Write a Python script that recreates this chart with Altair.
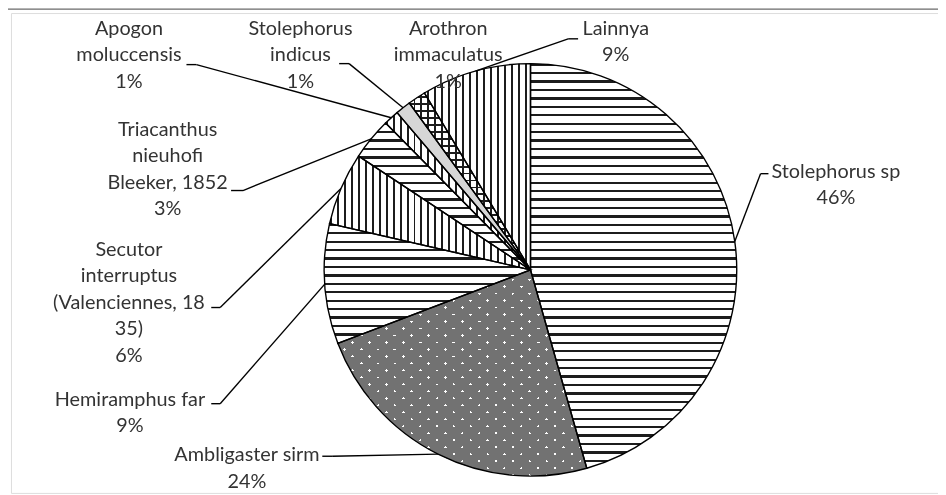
import math
import altair as alt
import pandas as pd

# ---------------- data ----------------
species = [
    "Stolephorus sp",
    "Ambligaster sirm",
    "Hemiramphus far",
    "Secutor interruptus (Valenciennes, 1835)",
    "Triacanthus nieuhofi Bleeker, 1852",
    "Apogon moluccensis",
    "Stolephorus indicus",
    "Arothron immaculatus",
    "Lainnya",
]
shares = [45.6, 23.6, 9.4, 5.7, 3.3, 1.2, 1.2, 1.4, 8.6]
pct_text = ["46%", "24%", "9%", "6%", "3%", "1%", "1%", "1%", "9%"]
name_lines = [
    "Stolephorus sp",
    "Ambligaster sirm",
    "Hemiramphus far",
    "Secutor\ninterruptus\n(Valenciennes, 18\n35)",
    "Triacanthus\nnieuhofi\nBleeker, 1852",
    "Apogon\nmoluccensis",
    "Stolephorus\nindicus",
    "Arothron\nimmaculatus",
    "Lainnya",
]

# ---------------- layout / style ----------------
patterns = ["hlines", "dots", "hlines", "vlines", "hlines", "vlines", "light", "cross", "vlines"]
ORIGIN = 11           # page offset of the view (8px body margin + 3px padding)
W, H = 935, 484
CX, CY, R = 535 - ORIGIN, 270 - ORIGIN, 208
label_x = [843, 249, 131, 130, 169, 130, 303, 452, 621]
label_y = [177, 463, 407, 256, 135, 33, 33, 33, 33]
stub_x = [775, 325, 213, 213, 233, 188, 342, None, 583]
stub_y = [173, 458, 405, 308, 190, 63, 62, None, 37]
elbow_x = [767, 335, 222, 222, 245, 198, 352, None, 573]
elbow_y = [173, 458, 405, 308, 190, 63, 62, None, 37]
FONT = "Lato"
FONT_SIZE = 20
LINE_H = 26.7
TEXT_COLOR = "#333333"


def shift(v):
    return None if v is None else v - ORIGIN


df = pd.DataFrame({
    "species": species,
    "share": shares,
    "order": list(range(len(species))),
    "label": [n + "\n" + p for n, p in zip(name_lines, pct_text)],
    "lx": [shift(v) for v in label_x],
    "ly": [shift(v) for v in label_y],
    "sx": [shift(v) for v in stub_x],
    "sy": [shift(v) for v in stub_y],
    "ex": [shift(v) for v in elbow_x],
    "ey": [shift(v) for v in elbow_y],
})

# ---------------- pattern helpers (fills only) ----------------
def stripe_stops(lo, hi, period, width, band, base):
    size = hi - lo
    stops = []

    def col_at(y):
        return band if (y % period) < width else base

    cur = col_at(lo)
    stops.append({"offset": 0, "color": cur})
    k = math.floor(lo / period) - 1
    while True:
        s = k * period
        e = s + width
        for edge, newc in ((s, band), (e, base)):
            if lo < edge < hi and newc != cur:
                off = round((edge - lo) / size, 5)
                stops.append({"offset": off, "color": cur})
                stops.append({"offset": off, "color": newc})
                cur = newc
        if s > hi:
            break
        k += 1
    stops.append({"offset": 1, "color": cur})
    return stops


def lin(stops, x1, y1, x2, y2):
    return {"gradient": "linear", "x1": x1, "y1": y1, "x2": x2, "y2": y2, "stops": stops}


def wedge_bbox(f0, f1):
    angs = [f0, f1] + [q for q in (0.0, 0.25, 0.5, 0.75, 1.0) if f0 < q < f1]
    xs = [CX] + [CX + R * math.sin(2 * math.pi * a) for a in angs]
    ys = [CY] + [CY - R * math.cos(2 * math.pi * a) for a in angs]
    return min(xs), max(xs), min(ys), max(ys)


DARK = "#1c1c1c"
WHITE = "#ffffff"
H_PERIOD, H_W = 8.5, 2.3
V_PERIOD, V_W = 7.0, 2.0

total = sum(shares)
cum = 0.0
fills = []  # list of (index, fill, blend)
for i, (v, pat) in enumerate(zip(shares, patterns)):
    f0, f1 = cum / total, (cum + v) / total
    cum += v
    x0, x1, y0, y1 = wedge_bbox(f0, f1)
    if pat == "hlines":
        fills.append((i, lin(stripe_stops(y0, y1, H_PERIOD, H_W, DARK, WHITE), 0, 0, 0, 1), None))
    elif pat == "vlines":
        fills.append((i, lin(stripe_stops(x0, x1, V_PERIOD, V_W, DARK, WHITE), 0, 0, 1, 0), None))
    elif pat == "cross":
        fills.append((i, lin(stripe_stops(y0, y1, 7.0, 1.8, DARK, WHITE), 0, 0, 0, 1), None))
        fills.append((i, lin(stripe_stops(x0, x1, 7.0, 1.8, DARK, WHITE), 0, 0, 1, 0), "darken"))
    elif pat == "dots":
        w = x1 - x0
        pt, bt = 17.0 / (2 * w), 3.0 / (2 * w)
        gray = "#727272"
        fills.append((i, lin(stripe_stops(0, 1, pt, bt, WHITE, gray), 0, 0, 1, 1), None))
        fills.append((i, lin(stripe_stops(0, 1, pt, bt, WHITE, gray), 1, 0, 0, 1), "darken"))
    else:
        fills.append((i, "#d6d6d6", None))

# ---------------- chart ----------------
base = (
    alt.Chart(df)
    .transform_joinaggregate(total="sum(share)")
    .transform_window(cum="sum(share)", sort=[alt.SortField("order", order="ascending")])
    .transform_calculate(
        t0="(datum.cum - datum.share) / datum.total",
        t1="datum.cum / datum.total",
    )
    .transform_calculate(
        px=f"{CX} + {R} * sin(PI * (datum.t0 + datum.t1))",
        py=f"{CY} - {R} * cos(PI * (datum.t0 + datum.t1))",
    )
)

theta = alt.Theta("t0:Q", scale=alt.Scale(domain=[0, 1], range=[0, 2 * math.pi]), stack=None)
theta2 = alt.Theta2("t1:Q")

layers = []
for i, fill, blend in fills:
    kw = dict(radius=R, fill=fill, strokeWidth=0)
    if blend:
        kw["blend"] = blend
    layers.append(
        base.transform_filter(alt.datum.order == i)
        .mark_arc(**kw)
        .encode(theta=theta, theta2=theta2, x=alt.value(CX), y=alt.value(CY))
    )

outline = base.mark_arc(radius=R, fillOpacity=0, stroke="#000000", strokeWidth=1.4).encode(
    theta=theta, theta2=theta2, x=alt.value(CX), y=alt.value(CY)
)

leaders = base.transform_filter("datum.sx != null")
stub = leaders.mark_rule(color="#000000", strokeWidth=1.4).encode(
    x=alt.X("sx:Q", scale=None, axis=None),
    x2="ex:Q",
    y=alt.Y("sy:Q", scale=None, axis=None),
    y2="ey:Q",
)
diag = leaders.mark_rule(color="#000000", strokeWidth=1.4).encode(
    x=alt.X("ex:Q", scale=None, axis=None),
    x2="px:Q",
    y=alt.Y("ey:Q", scale=None, axis=None),
    y2="py:Q",
)

labels = base.mark_text(
    align="center", baseline="alphabetic", lineBreak="\n", lineHeight=LINE_H,
    font=FONT, fontSize=FONT_SIZE, color=TEXT_COLOR,
).encode(
    x=alt.X("lx:Q", scale=None, axis=None),
    y=alt.Y("ly:Q", scale=None, axis=None),
    text="label:N",
)

border_top = alt.Chart(df.head(1)).mark_rule(color="#6a6a6a", strokeWidth=1.3).encode(
    x=alt.value(-4.5), x2=alt.value(W), y=alt.value(-4)
)
border_left = alt.Chart(df.head(1)).mark_rule(color="#5a5a5a", strokeWidth=1.6).encode(
    x=alt.value(-4.5), y=alt.value(-4), y2=alt.value(H)
)

chart = (
    alt.layer(*layers, outline, stub, diag, labels, border_top, border_left)
    .properties(
        width=W,
        height=H,
        padding={"left": 3, "top": 3, "right": 0, "bottom": 0},
        autosize=alt.AutoSizeParams(type="none"),
    )
    .configure_view(stroke=None)
    .configure(background="white")
)

chart.save("out.html", embed_options={"renderer": "svg", "actions": False})
